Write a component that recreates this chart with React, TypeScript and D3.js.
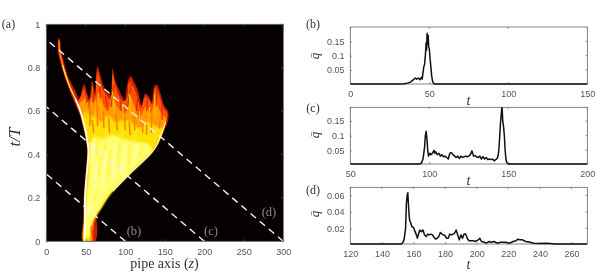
import React, { useEffect, useRef } from "react";
import * as d3 from "d3";

type Pt = [number, number];

// panel (a) contours as [z, t/T]
const flameOutline: Pt[] = [
  [46.5, 0], [47, 0.1], [47.3, 0.2], [49, 0.28], [51, 0.36], [51.8, 0.42], [50.5, 0.46], [47.5, 0.52], [42.5, 0.58], [34.5, 0.65],
  [26, 0.73], [19, 0.81], [15, 0.87], [14.5, 0.91], [15.5, 0.938], [17.5, 0.926], [18.5, 0.88], [20.7, 0.849], [27.9, 0.757],
  [36.3, 0.696], [41.8, 0.657], [45.6, 0.703], [48.1, 0.725], [51, 0.688], [54, 0.657], [56.1, 0.69], [58, 0.74], [60.4, 0.703],
  [61.6, 0.672], [62.9, 0.742], [64.6, 0.806], [68, 0.772], [72.2, 0.718], [78.5, 0.68], [84.5, 0.671], [85.7, 0.711], [83, 0.77],
  [84, 0.795], [87, 0.742], [93.3, 0.688], [97.5, 0.657], [99.6, 0.642], [101, 0.69], [103.8, 0.745], [106.8, 0.76], [112.3, 0.726],
  [116.5, 0.688], [120.7, 0.626], [125, 0.68], [129, 0.672], [133.4, 0.642], [136.3, 0.711], [139.7, 0.722], [143.9, 0.688],
  [149, 0.626], [154.4, 0.596], [153.6, 0.55], [148, 0.504], [139.7, 0.435], [127, 0.381], [106, 0.312], [84.8, 0.235], [68, 0.15],
  [63.7, 0.112], [64.6, 0.05], [61.6, 0],
];
const orangeContour: Pt[] = [
  [47.5, 0], [48, 0.1], [48.2, 0.2], [50, 0.28], [52, 0.36], [52.5, 0.42], [51, 0.47], [47, 0.55], [38, 0.65], [40, 0.645], [44, 0.672],
  [47.8, 0.705], [50, 0.67], [54, 0.645], [57, 0.68], [58.5, 0.72], [60, 0.69], [62, 0.665], [64.5, 0.785], [67, 0.76], [71, 0.705],
  [77, 0.67], [81, 0.655], [84, 0.77], [88, 0.715], [92, 0.67], [97, 0.645], [102, 0.66], [105, 0.735], [110, 0.715], [115, 0.67],
  [120, 0.615], [125, 0.665], [130, 0.655], [134, 0.63], [138, 0.705], [142, 0.68], [148, 0.615], [153, 0.59], [152, 0.55],
  [147, 0.503], [139, 0.433], [126, 0.38], [105, 0.31], [84, 0.232], [69, 0.155], [62, 0.11], [60, 0.06], [59, 0],
];
const amberContour: Pt[] = [
  [48, 0], [48.5, 0.1], [49, 0.2], [51, 0.3], [53, 0.42], [50, 0.5], [44, 0.59], [41, 0.63], [46, 0.65], [49, 0.66], [53, 0.61], [58, 0.66],
  [62, 0.61], [66, 0.69], [72, 0.63], [78, 0.6], [84, 0.68], [90, 0.62], [100, 0.59], [106, 0.67], [112, 0.62], [118, 0.57], [126, 0.62],
  [132, 0.59], [138, 0.65], [145, 0.59], [151, 0.57], [149, 0.515], [138, 0.43], [125, 0.378], [104, 0.307], [83, 0.228], [69, 0.15],
  [60, 0.1], [56.5, 0.05], [56, 0],
];
const yellowContour: Pt[] = [
  [48, 0], [49, 0.1], [49.5, 0.2], [52, 0.3], [53.5, 0.42], [50.5, 0.49], [46, 0.57], [50, 0.6], [56, 0.57], [62, 0.58], [70, 0.55], [78, 0.58], [88, 0.55],
  [98, 0.56], [108, 0.55], [118, 0.52], [128, 0.55], [138, 0.53], [147, 0.52], [136, 0.425], [123, 0.373], [103, 0.303], [82, 0.224],
  [68, 0.145], [60, 0.1], [56, 0.05], [55, 0],
];
const paleContour: Pt[] = [
  [50, 0.02], [51, 0.2], [54, 0.3], [55, 0.42], [60, 0.48], [72, 0.47], [84, 0.49], [98, 0.47], [112, 0.46], [128, 0.45], [134, 0.42],
  [120, 0.365], [101, 0.298], [80, 0.218], [66, 0.14], [58, 0.09], [54.5, 0.02],
];
const leftRidge: Pt[] = [
  [48.5, 0], [49, 0.1], [49, 0.2], [50.5, 0.28], [52.5, 0.36], [53.5, 0.42], [52, 0.46], [49, 0.52], [44, 0.59], [37, 0.655],
];
const filamentCore: Pt[] = [[37, 0.655], [30, 0.71], [24, 0.77], [20.5, 0.815]];
const filamentTip: Pt[] = [[20.5, 0.815], [17, 0.87], [16, 0.925]];
const rightRidge: Pt[] = [
  [151, 0.55], [147, 0.507], [138, 0.432], [125, 0.377], [105, 0.309], [84, 0.23],
];
const redStreaks: Pt[][] = [
  [[52, 0.62], [51, 0.68]], [[59, 0.64], [60, 0.69]], [[69, 0.64], [67, 0.74]], [[77, 0.62], [75, 0.67]], [[82, 0.62], [86, 0.72]],
  [[95, 0.6], [94, 0.65]], [[103, 0.62], [108, 0.74]], [[114, 0.6], [116, 0.67]], [[127, 0.6], [128, 0.66]], [[139, 0.62], [140, 0.7]],
  [[147, 0.56], [146, 0.62]], [[60, 0.005], [58, 0.05]],
];
const orangeStreaks: Pt[][] = [
  [[55, 0.53], [56, 0.62]], [[65, 0.53], [64, 0.63]], [[73, 0.52], [72, 0.6]], [[90, 0.51], [88, 0.59]], [[100, 0.51], [99, 0.58]],
  [[112, 0.51], [111, 0.59]], [[122, 0.5], [122, 0.56]], [[133, 0.5], [133, 0.58]], [[143, 0.52], [145, 0.58]], [[60, 0.5], [58, 0.56]],
  [[80, 0.5], [79, 0.57]], [[106, 0.49], [105, 0.55]], [[127, 0.49], [127, 0.54]], [[57.5, 0.005], [56.5, 0.07]],
];
const amberStreaks: Pt[][] = [
  [[50, 0.57], [52, 0.64]], [[62, 0.57], [62, 0.65]], [[70, 0.57], [69, 0.66]], [[86, 0.58], [84, 0.69]], [[98, 0.57], [96, 0.63]],
  [[107, 0.58], [105, 0.68]], [[118, 0.55], [118, 0.6]], [[138, 0.57], [137, 0.68]], [[130, 0.56], [131, 0.62]],
];
const paleStreaks: Pt[][] = [
  [[60, 0.22], [64, 0.36]], [[70, 0.24], [76, 0.42]], [[84, 0.28], [88, 0.44]], [[96, 0.31], [100, 0.44]], [[110, 0.35], [116, 0.44]],
  [[58, 0.36], [60, 0.46]], [[54.5, 0.12], [56, 0.2]],
];
const yellowStreaks: Pt[][] = [
  [[66, 0.3], [70, 0.4]], [[78, 0.3], [81, 0.42]], [[90, 0.34], [93, 0.46]], [[104, 0.35], [106, 0.45]], [[118, 0.38], [122, 0.44]],
  [[64, 0.4], [66, 0.48]], [[74, 0.42], [76, 0.52]], [[96, 0.46], [97, 0.52]], [[112, 0.45], [113, 0.51]], [[60, 0.18], [62, 0.24]],
];

// dashed characteristics z + c t = const, one for each of panels (b), (c), (d)
const dashEnds = [100, 200, 300];
const dashTops = [0.31, 0.62, 0.93];

const heatXTicks = [0, 50, 100, 150, 200, 250, 300];
const heatYTicks = [0, 0.2, 0.4, 0.6, 0.8, 1];

// time series, [t, q]
const seriesB: Pt[] = [
  [0, 0.001], [30, 0.001], [34, 0.002], [36, 0.004], [38, 0.007], [39, 0.012], [40, 0.016], [41, 0.022], [42, 0.018], [43, 0.022],
  [44, 0.016], [45, 0.024], [45.5, 0.018], [46, 0.04], [46.5, 0.06], [47, 0.07], [47.5, 0.1], [48, 0.145], [48.3, 0.12], [48.6, 0.178],
  [49, 0.14], [49.3, 0.17], [49.6, 0.13], [50, 0.125], [50.5, 0.09], [51, 0.06], [51.5, 0.03], [52, 0.012], [52.5, 0.005], [53, 0.002],
  [54, 0.001], [60, 0.001], [150, 0.001],
];
const seriesC: Pt[] = [
  [50, 0.003], [94, 0.003], [95, 0.006], [96, 0.02], [97, 0.06], [97.5, 0.1], [98, 0.115], [98.5, 0.09], [99, 0.05], [99.5, 0.03],
  [100, 0.035], [100.5, 0.04], [101, 0.035], [102, 0.04], [103, 0.05], [103.5, 0.04], [104, 0.045], [105, 0.035], [106, 0.04], [107, 0.03],
  [108, 0.035], [109, 0.028], [110, 0.03], [111, 0.025], [112, 0.02], [113, 0.04], [114, 0.042], [115, 0.035], [116, 0.03], [117, 0.025],
  [118, 0.03], [119, 0.022], [120, 0.03], [121, 0.025], [122, 0.028], [123, 0.03], [124, 0.028], [125, 0.03], [126, 0.035], [127, 0.048],
  [128, 0.03], [129, 0.032], [130, 0.027], [131, 0.025], [132, 0.03], [133, 0.02], [134, 0.028], [135, 0.02], [136, 0.025], [137, 0.018],
  [138, 0.02], [139, 0.018], [140, 0.02], [141, 0.014], [142, 0.018], [143, 0.022], [143.5, 0.03], [144, 0.05], [144.5, 0.09], [145, 0.14],
  [145.5, 0.17], [146, 0.2], [146.5, 0.15], [147, 0.13], [147.5, 0.1], [148, 0.05], [148.5, 0.02], [149, 0.008], [150, 0.003], [200, 0.003],
];
const seriesD: Pt[] = [
  [120, 0.001], [152, 0.001], [153, 0.002], [154, 0.006], [155, 0.02], [155.5, 0.05], [156, 0.06], [156.4, 0.063], [157, 0.042], [157.5, 0.03],
  [158, 0.028], [159, 0.022], [160, 0.021], [161, 0.016], [162, 0.011], [162.5, 0.008], [163, 0.012], [164, 0.018], [165, 0.016], [166, 0.018],
  [167, 0.012], [168, 0.01], [169, 0.013], [170, 0.012], [171, 0.013], [172, 0.012], [173, 0.009], [174, 0.007], [175, 0.008], [176, 0.01],
  [177, 0.015], [178, 0.013], [179, 0.012], [180, 0.011], [181, 0.008], [182, 0.008], [183, 0.013], [184, 0.012], [185, 0.013], [186, 0.014],
  [187, 0.018], [188, 0.012], [189, 0.006], [190, 0.012], [191, 0.008], [192, 0.013], [193, 0.013], [194, 0.008], [195, 0.005], [196, 0.005],
  [198, 0.005], [199, 0.004], [201, 0.006], [202, 0.008], [203, 0.004], [205, 0.003], [206, 0.002], [208, 0.004], [209, 0.003], [211, 0.004],
  [213, 0.002], [215, 0.003], [218, 0.003], [221, 0.002], [223, 0.004], [225, 0.005], [226, 0.007], [227, 0.006], [229, 0.006], [231, 0.004],
  [234, 0.003], [236, 0.002], [240, 0.0015], [244, 0.002], [250, 0.001], [270, 0.001],
];

const bTicksX = [0, 50, 100, 150];
const cTicksX = [50, 100, 150, 200];
const dTicksX = [120, 140, 160, 180, 200, 220, 240, 260];
const bcTicksY = [0.05, 0.1, 0.15];
const dTicksY = [0.02, 0.04, 0.06];

const SANS = "'Liberation Sans', Arial, sans-serif";
const SERIF = "'Liberation Serif', serif";
const AXIS_COLOR = "#666";

// MATLAB style box: ticks inside on all four sides
function drawBox(g: any, x: any, y: any, xTicks: number[], yTicks: number[], tickLen: number) {
  const [x0, x1] = x.range();
  const [y0, y1] = y.range();
  const bottom = g.append("g").attr("transform", `translate(0,${y0})`)
    .call(d3.axisBottom(x).tickValues(xTicks).tickSize(-tickLen).tickPadding(tickLen + 5).tickFormat((d: any) => String(d)));
  const left = g.append("g").attr("transform", `translate(${x0},0)`)
    .call(d3.axisLeft(y).tickValues(yTicks).tickSize(-tickLen).tickPadding(tickLen + 4).tickFormat((d: any) => String(d)));
  [bottom, left].forEach((a) => {
    a.selectAll("text").attr("fill", "#555").attr("filter", "url(#lineSoft)").style("font-family", SANS).style("font-size", "9px");
    a.selectAll("line").attr("stroke", AXIS_COLOR).attr("stroke-width", 0.7);
    a.select(".domain").remove();
  });
  g.append("g").selectAll("line").data(xTicks).enter().append("line")
    .attr("x1", (d: number) => x(d)).attr("x2", (d: number) => x(d))
    .attr("y1", y1).attr("y2", y1 + tickLen).attr("stroke", AXIS_COLOR).attr("stroke-width", 0.7);
  g.append("g").selectAll("line").data(yTicks).enter().append("line")
    .attr("x1", x1).attr("x2", x1 - tickLen)
    .attr("y1", (d: number) => y(d)).attr("y2", (d: number) => y(d)).attr("stroke", AXIS_COLOR).attr("stroke-width", 0.7);
  g.append("rect").attr("x", x0).attr("y", y1).attr("width", x1 - x0).attr("height", y0 - y1)
    .attr("fill", "none").attr("stroke", AXIS_COLOR).attr("stroke-width", 0.8);
}

function label(svg: any, x: number, y: number, txt: string, size: number, fill = "#333", italic = false) {
  return svg.append("text").attr("x", x).attr("y", y).attr("text-anchor", "middle")
    .attr("fill", fill).attr("filter", "url(#lineSoft)").style("font-family", SERIF).style("font-size", `${size}px`)
    .style("font-style", italic ? "italic" : "normal").text(txt);
}

export default function App() {
  const svgRef = useRef<SVGSVGElement | null>(null);

  useEffect(() => {
    const svg = d3.select(svgRef.current);
    svg.selectAll("*").remove();

    const defs = svg.append("defs");
    defs.append("filter").attr("id", "soft").attr("x", "-5%").attr("y", "-5%").attr("width", "110%").attr("height", "110%")
      .append("feGaussianBlur").attr("stdDeviation", 0.45);
    defs.append("filter").attr("id", "softer").attr("x", "-10%").attr("y", "-10%").attr("width", "120%").attr("height", "120%")
      .append("feGaussianBlur").attr("stdDeviation", 1.1);
    defs.append("filter").attr("id", "lineSoft").attr("x", "-20%").attr("y", "-20%").attr("width", "140%").attr("height", "140%")
      .append("feGaussianBlur").attr("stdDeviation", 0.3);
    defs.append("clipPath").attr("id", "heatClip").append("rect").attr("x", 46.3).attr("y", 24.3).attr("width", 237).attr("height", 217);

    // panel (a)
    const x = d3.scaleLinear().domain([0, 300]).range([46.3, 283.3]);
    const y = d3.scaleLinear().domain([0, 1]).range([241.3, 24.3]);
    const area = d3.line<Pt>().x((d) => x(d[0])).y((d) => y(d[1])).curve(d3.curveCatmullRomClosed.alpha(0.5));
    const open = d3.line<Pt>().x((d) => x(d[0])).y((d) => y(d[1])).curve(d3.curveCatmullRom.alpha(0.5));

    svg.append("rect").attr("x", x(0)).attr("y", y(1)).attr("width", x(300) - x(0)).attr("height", y(0) - y(1)).attr("fill", "#070000");

    const flame = svg.append("g").attr("clip-path", "url(#heatClip)").append("g").attr("filter", "url(#soft)");
    const levels: [Pt[], string, string][] = [
      [flameOutline, "#c91a00", "none"],
      [orangeContour, "#ff5200", "none"],
      [amberContour, "#ff9a00", "url(#soft)"],
      [yellowContour, "#ffe000", "url(#softer)"],
      [paleContour, "#ffff70", "url(#softer)"],
    ];
    levels.forEach(([pts, col, filt]) => flame.append("path").attr("d", area(pts)).attr("fill", col).attr("filter", filt));

    // the streaks inside the pale body are faint, so they get the wider blur
    const streakSets: [Pt[][], string, number, string][] = [
      [redStreaks, "#d83000", 1.4, "none"],
      [orangeStreaks, "#ff8000", 1.5, "none"],
      [amberStreaks, "#ffb800", 1.3, "none"],
      [yellowStreaks, "#fff040", 1.8, "url(#softer)"],
      [paleStreaks, "#ffffb8", 2, "url(#softer)"],
    ];
    streakSets.forEach(([set, col, w, filt]) => {
      const group = flame.append("g").attr("filter", filt);
      set.forEach((s) => group.append("path").attr("d", open(s)).attr("stroke", col).attr("stroke-width", w).attr("fill", "none"));
    });

    flame.append("path").attr("d", open(leftRidge)).attr("stroke", "#fffff0").attr("stroke-width", 1.8).attr("fill", "none");
    flame.append("path").attr("d", open(filamentCore)).attr("stroke", "#ffe040").attr("stroke-width", 1.5).attr("fill", "none");
    flame.append("path").attr("d", open(filamentTip)).attr("stroke", "#ff9a00").attr("stroke-width", 1.3).attr("fill", "none");
    flame.append("path").attr("d", open(rightRidge)).attr("stroke", "#ffffb0").attr("stroke-width", 1.1).attr("fill", "none");

    // dashed lines
    const dashes = svg.append("g").attr("clip-path", "url(#heatClip)");
    dashEnds.forEach((end, i) => {
      dashes.append("line").attr("x1", x(end)).attr("y1", y(0)).attr("x2", x(0)).attr("y2", y(dashTops[i]))
        .attr("stroke", "#f2f2f2").attr("stroke-width", 1.4).attr("stroke-dasharray", "7 5");
    });

    drawBox(svg.append("g"), x, y, heatXTicks, heatYTicks, 2);

    label(svg, 8.5, 28, "(a)", 12);
    label(svg, 134, 234.5, "(b)", 12.5, "#8a8a8a");
    label(svg, 211, 234.5, "(c)", 12.5, "#8a8a8a");
    label(svg, 269, 216, "(d)", 12.5, "#8a8a8a");
    const zLab = label(svg, 164.5, 268, "pipe axis (", 14, "#333");
    zLab.append("tspan").style("font-style", "italic").text("z");
    zLab.append("tspan").text(")");
    label(svg, 0, 0, "t/T", 17, "#333", true).attr("transform", "translate(20,137) rotate(-90)");

    // panels (b), (c), (d)
    const panels = [
      { tag: "(b)", data: seriesB, xd: [0, 150], yd: [0.001, 0.2], yr: [84, 27], xt: bTicksX, yt: bcTicksY, tagY: 28, tY: 105, qY: 56 },
      { tag: "(c)", data: seriesC, xd: [50, 200], yd: [0.003, 0.197], yr: [164, 107.3], xt: cTicksX, yt: bcTicksY, tagY: 112, tY: 185, qY: 135 },
      { tag: "(d)", data: seriesD, xd: [120, 270], yd: [0.001, 0.0697], yr: [244, 187.3], xt: dTicksX, yt: dTicksY, tagY: 193.5, tY: 269, qY: 214 },
    ];
    panels.forEach((p, i) => {
      const px = d3.scaleLinear().domain(p.xd).range([350.3, 587.3]);
      const py = d3.scaleLinear().domain(p.yd).range(p.yr);
      defs.append("clipPath").attr("id", `clip${i}`).append("rect").attr("x", 350.3).attr("y", p.yr[1]).attr("width", 237).attr("height", p.yr[0] - p.yr[1] + 1.5);
      const g = svg.append("g");
      drawBox(g, px, py, p.xt, p.yt, 1.8);
      const line = d3.line<Pt>().x((d) => px(d[0])).y((d) => py(d[1]));
      svg.append("g").attr("clip-path", `url(#clip${i})`).append("path").attr("d", line(p.data))
        .attr("fill", "none").attr("stroke", "#111").attr("stroke-width", 1.5).attr("stroke-linejoin", "round");
      label(svg, 313, p.tagY, p.tag, 12);
      label(svg, 468.5, p.tY, "t", 14, "#333", true);
      label(svg, 0, 0, "q\u0304", 13, "#333", true).attr("transform", `translate(319,${p.qY}) rotate(-90)`);
    });
  }, []);

  return <svg ref={svgRef} width={598} height={271} style={{ position: "absolute", left: 0, top: 0, background: "#fff" }} />;
}
